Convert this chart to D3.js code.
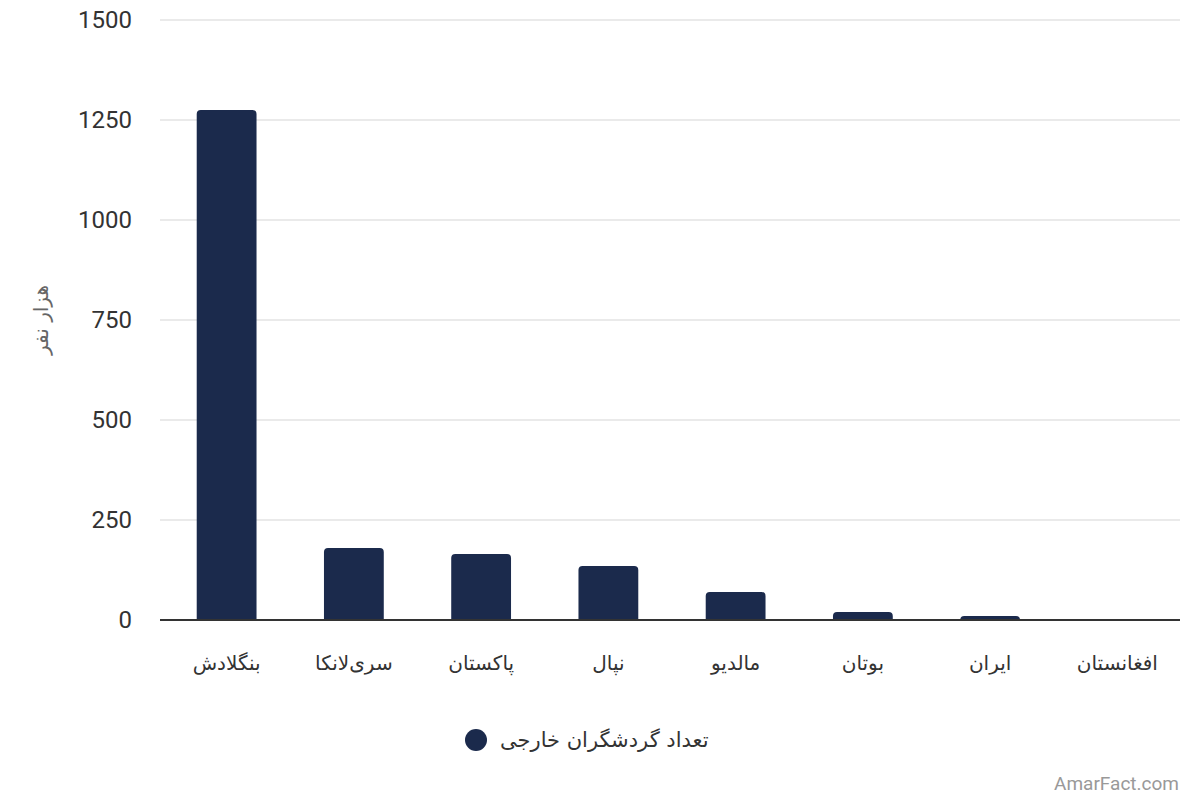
<!DOCTYPE html>
<html>
<head>
<meta charset="utf-8">
<script src="https://cdn.jsdelivr.net/npm/d3@7"></script>
<style>
  body { margin: 0; background: #fff; }
  svg text { font-family: Roboto, "DejaVu Sans", sans-serif; }
</style>
</head>
<body>
<div id="chart"></div>
<script>
const countries = ['بنگلادش', 'سری‌لانکا', 'پاکستان', 'نپال', 'مالدیو', 'بوتان', 'ایران', 'افغانستان'];
const visitors = [1275, 180, 165, 135, 70, 20, 10, 0];
const yTicks = [0, 250, 500, 750, 1000, 1250, 1500];
const seriesName = 'تعداد گردشگران خارجی';
const yLabel = 'هزار نفر';

const W = 1200, H = 800;
const margin = { top: 20, right: 20, bottom: 180, left: 160 };
const width = W - margin.left - margin.right;
const height = H - margin.top - margin.bottom;

const svg = d3.select('#chart')
    .append('svg')
    .attr('width', W)
    .attr('height', H);

const g = svg.append('g')
    .attr('transform', `translate(${margin.left},${margin.top})`);

const x = d3.scaleBand()
    .domain(countries)
    .range([3, width + 1])
    .paddingInner(0.53)
    .paddingOuter(0.265);

const y = d3.scaleLinear()
    .domain([0, 1500])
    .range([height, 0]);

// gridlines
g.selectAll('.grid')
    .data(yTicks.filter(d => d > 0))
    .enter()
    .append('line')
    .attr('x1', 0)
    .attr('x2', width)
    .attr('y1', d => y(d))
    .attr('y2', d => y(d))
    .attr('stroke', '#e3e3e3')
    .attr('stroke-width', 1.5);

// y tick labels
const yAxis = g.append('g')
    .call(d3.axisLeft(y).tickValues(yTicks).tickFormat(d3.format('d')).tickSize(0).tickPadding(28));
yAxis.select('.domain').remove();
yAxis.selectAll('text')
    .attr('font-size', 24)
    .attr('fill', '#333')
    .style('font-family', 'Roboto, sans-serif');

// bars
const r = 4;
g.selectAll('.bar')
    .data(countries)
    .enter()
    .append('path')
    .attr('class', 'bar')
    .attr('fill', '#1b2a4c')
    .attr('d', (c, i) => {
        const x0 = x(c), w = x.bandwidth();
        const y0 = y(visitors[i]), y1 = y(0);
        const h = y1 - y0;
        if (h <= 0) return '';
        const rr = Math.min(r, h);
        return `M${x0},${y1} V${y0 + rr} Q${x0},${y0} ${x0 + rr},${y0} H${x0 + w - rr} Q${x0 + w},${y0} ${x0 + w},${y0 + rr} V${y1} Z`;
    });

// x axis line
g.append('line')
    .attr('x1', 0)
    .attr('x2', width)
    .attr('y1', y(0))
    .attr('y2', y(0))
    .attr('stroke', '#333')
    .attr('stroke-width', 2);

// x labels
const xAxis = g.append('g')
    .attr('transform', `translate(0,${height})`)
    .call(d3.axisBottom(x).tickSize(0).tickPadding(36));
xAxis.select('.domain').remove();
xAxis.selectAll('text')
    .attr('font-size', 20)
    .attr('fill', '#333')
    .style('font-family', '"DejaVu Sans", sans-serif');

// y axis title
svg.append('text')
    .attr('transform', `translate(42,320) rotate(-90)`)
    .attr('text-anchor', 'middle')
    .attr('dominant-baseline', 'middle')
    .attr('font-size', 20)
    .attr('fill', '#666')
    .style('font-family', '"DejaVu Sans", sans-serif')
    .text(yLabel);

// legend
const legend = svg.append('g')
    .attr('transform', 'translate(476,740)');
legend.append('circle')
    .attr('r', 11)
    .attr('fill', '#1b2a4c');
legend.append('text')
    .attr('x', 24)
    .attr('dy', '0.35em')
    .attr('font-size', 21)
    .attr('fill', '#333')
    .style('font-family', '"DejaVu Sans", sans-serif')
    .text(seriesName);

// watermark
svg.append('text')
    .attr('x', 1179)
    .attr('y', 790)
    .attr('text-anchor', 'end')
    .attr('font-size', 19)
    .attr('fill', '#999')
    .text('AmarFact.com');
</script>
</body>
</html>
